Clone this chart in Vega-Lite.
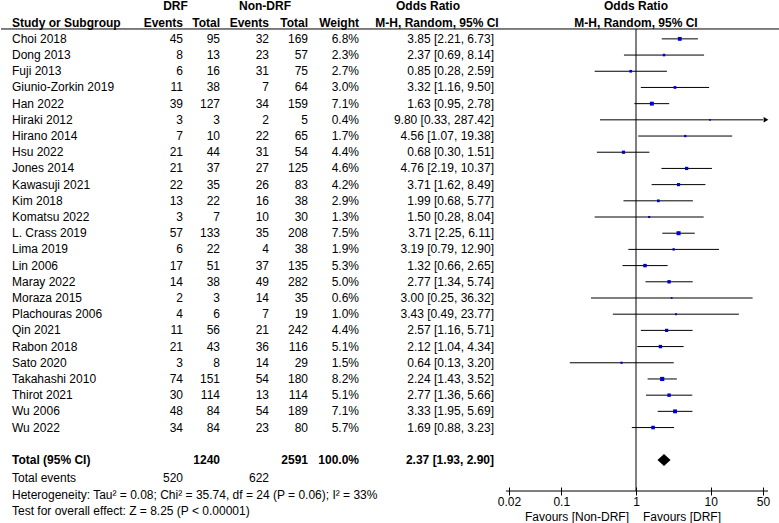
{
  "$schema": "https://vega.github.io/schema/vega-lite/v6.json",
  "background": "white",
  "padding": {"left": 0, "top": 0, "right": 17, "bottom": 0},
  "spacing": 0,
  "bounds": "flush",
  "config": {
    "view": {"stroke": null},
    "text": {"font": "Liberation Sans", "fontSize": 12, "color": "black"},
    "rule": {"color": "black", "strokeWidth": 1},
    "axis": {"labelFont": "Liberation Sans"}
  },
  "datasets": {
    "studies": [
      {"study": "Choi 2018", "e1": 45, "n1": 95, "e2": 32, "n2": 169, "w": 0.068, "or": 3.85, "lo": 2.21, "hi": 6.73, "ci": "3.85 [2.21, 6.73]"},
      {"study": "Dong 2013", "e1": 8, "n1": 13, "e2": 23, "n2": 57, "w": 0.023, "or": 2.37, "lo": 0.69, "hi": 8.14, "ci": "2.37 [0.69, 8.14]"},
      {"study": "Fuji 2013", "e1": 6, "n1": 16, "e2": 31, "n2": 75, "w": 0.027, "or": 0.85, "lo": 0.28, "hi": 2.59, "ci": "0.85 [0.28, 2.59]"},
      {"study": "Giunio-Zorkin 2019", "e1": 11, "n1": 38, "e2": 7, "n2": 64, "w": 0.03, "or": 3.32, "lo": 1.16, "hi": 9.5, "ci": "3.32 [1.16, 9.50]"},
      {"study": "Han 2022", "e1": 39, "n1": 127, "e2": 34, "n2": 159, "w": 0.071, "or": 1.63, "lo": 0.95, "hi": 2.78, "ci": "1.63 [0.95, 2.78]"},
      {"study": "Hiraki 2012", "e1": 3, "n1": 3, "e2": 2, "n2": 5, "w": 0.004, "or": 9.8, "lo": 0.33, "hi": 287.42, "ci": "9.80 [0.33, 287.42]"},
      {"study": "Hirano 2014", "e1": 7, "n1": 10, "e2": 22, "n2": 65, "w": 0.017, "or": 4.56, "lo": 1.07, "hi": 19.38, "ci": "4.56 [1.07, 19.38]"},
      {"study": "Hsu 2022", "e1": 21, "n1": 44, "e2": 31, "n2": 54, "w": 0.044, "or": 0.68, "lo": 0.3, "hi": 1.51, "ci": "0.68 [0.30, 1.51]"},
      {"study": "Jones 2014", "e1": 21, "n1": 37, "e2": 27, "n2": 125, "w": 0.046, "or": 4.76, "lo": 2.19, "hi": 10.37, "ci": "4.76 [2.19, 10.37]"},
      {"study": "Kawasuji 2021", "e1": 22, "n1": 35, "e2": 26, "n2": 83, "w": 0.042, "or": 3.71, "lo": 1.62, "hi": 8.49, "ci": "3.71 [1.62, 8.49]"},
      {"study": "Kim 2018", "e1": 13, "n1": 22, "e2": 16, "n2": 38, "w": 0.029, "or": 1.99, "lo": 0.68, "hi": 5.77, "ci": "1.99 [0.68, 5.77]"},
      {"study": "Komatsu 2022", "e1": 3, "n1": 7, "e2": 10, "n2": 30, "w": 0.013, "or": 1.5, "lo": 0.28, "hi": 8.04, "ci": "1.50 [0.28, 8.04]"},
      {"study": "L. Crass 2019", "e1": 57, "n1": 133, "e2": 35, "n2": 208, "w": 0.075, "or": 3.71, "lo": 2.25, "hi": 6.11, "ci": "3.71 [2.25, 6.11]"},
      {"study": "Lima 2019", "e1": 6, "n1": 22, "e2": 4, "n2": 38, "w": 0.019, "or": 3.19, "lo": 0.79, "hi": 12.9, "ci": "3.19 [0.79, 12.90]"},
      {"study": "Lin 2006", "e1": 17, "n1": 51, "e2": 37, "n2": 135, "w": 0.053, "or": 1.32, "lo": 0.66, "hi": 2.65, "ci": "1.32 [0.66, 2.65]"},
      {"study": "Maray 2022", "e1": 14, "n1": 38, "e2": 49, "n2": 282, "w": 0.05, "or": 2.77, "lo": 1.34, "hi": 5.74, "ci": "2.77 [1.34, 5.74]"},
      {"study": "Moraza 2015", "e1": 2, "n1": 3, "e2": 14, "n2": 35, "w": 0.006, "or": 3.0, "lo": 0.25, "hi": 36.32, "ci": "3.00 [0.25, 36.32]"},
      {"study": "Plachouras 2006", "e1": 4, "n1": 6, "e2": 7, "n2": 19, "w": 0.01, "or": 3.43, "lo": 0.49, "hi": 23.77, "ci": "3.43 [0.49, 23.77]"},
      {"study": "Qin 2021", "e1": 11, "n1": 56, "e2": 21, "n2": 242, "w": 0.044, "or": 2.57, "lo": 1.16, "hi": 5.71, "ci": "2.57 [1.16, 5.71]"},
      {"study": "Rabon 2018", "e1": 21, "n1": 43, "e2": 36, "n2": 116, "w": 0.051, "or": 2.12, "lo": 1.04, "hi": 4.34, "ci": "2.12 [1.04, 4.34]"},
      {"study": "Sato 2020", "e1": 3, "n1": 8, "e2": 14, "n2": 29, "w": 0.015, "or": 0.64, "lo": 0.13, "hi": 3.2, "ci": "0.64 [0.13, 3.20]"},
      {"study": "Takahashi 2010", "e1": 74, "n1": 151, "e2": 54, "n2": 180, "w": 0.082, "or": 2.24, "lo": 1.43, "hi": 3.52, "ci": "2.24 [1.43, 3.52]"},
      {"study": "Thirot 2021", "e1": 30, "n1": 114, "e2": 13, "n2": 114, "w": 0.051, "or": 2.77, "lo": 1.36, "hi": 5.66, "ci": "2.77 [1.36, 5.66]"},
      {"study": "Wu 2006", "e1": 48, "n1": 84, "e2": 54, "n2": 189, "w": 0.071, "or": 3.33, "lo": 1.95, "hi": 5.69, "ci": "3.33 [1.95, 5.69]"},
      {"study": "Wu 2022", "e1": 34, "n1": 84, "e2": 23, "n2": 80, "w": 0.057, "or": 1.69, "lo": 0.88, "hi": 3.23, "ci": "1.69 [0.88, 3.23]"}
    ],
    "total": [
      {"study": "Total (95% CI)", "n1": 1240, "n2": 2591, "w": 1, "or": 2.37, "lo": 1.93, "hi": 2.9, "ci": "2.37 [1.93, 2.90]"}
    ],
    "totev": [
      {"study": "Total events", "e1": 520, "e2": 622}
    ],
    "notes": [
      {"study": "Het", "text": "Heterogeneity: Tau² = 0.08; Chi² = 35.74, df = 24 (P = 0.06); I² = 33%"},
      {"study": "Test", "text": "Test for overall effect: Z = 8.25 (P < 0.00001)"}
    ]
  },
  "hconcat": [
    {
      "width": 145, "height": 515,
      "layer": [
        {"data": {"values": [{"study": "hdr2"}]}, "mark": {"type": "rule", "yOffset": 6.3},
         "encoding": {"y": {"field": "study", "type": "nominal", "axis": null, "scale": {"type": "point", "padding": 0.4, "domain": ["hdr1","hdr2","Choi 2018","Dong 2013","Fuji 2013","Giunio-Zorkin 2019","Han 2022","Hiraki 2012","Hirano 2014","Hsu 2022","Jones 2014","Kawasuji 2021","Kim 2018","Komatsu 2022","L. Crass 2019","Lima 2019","Lin 2006","Maray 2022","Moraza 2015","Plachouras 2006","Qin 2021","Rabon 2018","Sato 2020","Takahashi 2010","Thirot 2021","Wu 2006","Wu 2022","blank","Total (95% CI)","Total events","Het","Test"]}}}},
        {"data": {"values": [{"study": "hdr2", "t": "Study or Subgroup"}]}, "mark": {"type": "text", "align": "left", "dx": 11, "fontWeight": "bold"},
         "encoding": {"x": {"datum": 0, "type": "quantitative", "scale": {"domain": [0, 1]}, "axis": null}, "y": {"field": "study", "type": "nominal", "axis": null}, "text": {"field": "t"}}},
        {"data": {"name": "studies"}, "mark": {"type": "text", "align": "left", "dx": 11},
         "encoding": {"x": {"datum": 0, "type": "quantitative", "axis": null}, "y": {"field": "study", "type": "nominal", "axis": null}, "text": {"field": "study"}}},
        {"data": {"name": "total"}, "mark": {"type": "text", "align": "left", "dx": 11, "fontWeight": "bold"},
         "encoding": {"x": {"datum": 0, "type": "quantitative", "axis": null}, "y": {"field": "study", "type": "nominal", "axis": null}, "text": {"field": "study"}}},
        {"data": {"name": "totev"}, "mark": {"type": "text", "align": "left", "dx": 11, "dy": 1.5},
         "encoding": {"x": {"datum": 0, "type": "quantitative", "axis": null}, "y": {"field": "study", "type": "nominal", "axis": null}, "text": {"field": "study"}}},
        {"data": {"name": "notes"}, "mark": {"type": "text", "align": "left", "dx": 11, "dy": 2.5},
         "encoding": {"x": {"datum": 0, "type": "quantitative", "axis": null}, "y": {"field": "study", "type": "nominal", "axis": null}, "text": {"field": "text"}}}
      ]
    },
    {
      "width": 37, "height": 515,
      "layer": [
        {"data": {"values": [{"study": "hdr2"}]}, "mark": {"type": "rule", "yOffset": 6.3},
         "encoding": {"y": {"field": "study", "type": "nominal", "axis": null, "scale": {"type": "point", "padding": 0.4, "domain": ["hdr1","hdr2","Choi 2018","Dong 2013","Fuji 2013","Giunio-Zorkin 2019","Han 2022","Hiraki 2012","Hirano 2014","Hsu 2022","Jones 2014","Kawasuji 2021","Kim 2018","Komatsu 2022","L. Crass 2019","Lima 2019","Lin 2006","Maray 2022","Moraza 2015","Plachouras 2006","Qin 2021","Rabon 2018","Sato 2020","Takahashi 2010","Thirot 2021","Wu 2006","Wu 2022","blank","Total (95% CI)","Total events","Het","Test"]}}}},
        {"data": {"values": [{"study": "hdr1", "t": "DRF"}]}, "mark": {"type": "text", "align": "center", "dx": -7.5, "fontWeight": "bold"},
         "encoding": {"x": {"datum": 1, "type": "quantitative", "scale": {"domain": [0, 1]}, "axis": null}, "y": {"field": "study", "type": "nominal", "axis": null}, "text": {"field": "t"}}},
        {"data": {"values": [{"study": "hdr2", "t": "Events"}]}, "mark": {"type": "text", "align": "right", "fontWeight": "bold"},
         "encoding": {"x": {"datum": 1, "type": "quantitative", "axis": null}, "y": {"field": "study", "type": "nominal", "axis": null}, "text": {"field": "t"}}},
        {"data": {"name": "studies"}, "mark": {"type": "text", "align": "right"},
         "encoding": {"x": {"datum": 1, "type": "quantitative", "axis": null}, "y": {"field": "study", "type": "nominal", "axis": null}, "text": {"field": "e1"}}},
        {"data": {"name": "totev"}, "mark": {"type": "text", "align": "right", "dy": 1.5},
         "encoding": {"x": {"datum": 1, "type": "quantitative", "axis": null}, "y": {"field": "study", "type": "nominal", "axis": null}, "text": {"field": "e1"}}}
      ]
    },
    {
      "width": 37, "height": 515,
      "layer": [
        {"data": {"values": [{"study": "hdr2"}]}, "mark": {"type": "rule", "yOffset": 6.3},
         "encoding": {"y": {"field": "study", "type": "nominal", "axis": null, "scale": {"type": "point", "padding": 0.4, "domain": ["hdr1","hdr2","Choi 2018","Dong 2013","Fuji 2013","Giunio-Zorkin 2019","Han 2022","Hiraki 2012","Hirano 2014","Hsu 2022","Jones 2014","Kawasuji 2021","Kim 2018","Komatsu 2022","L. Crass 2019","Lima 2019","Lin 2006","Maray 2022","Moraza 2015","Plachouras 2006","Qin 2021","Rabon 2018","Sato 2020","Takahashi 2010","Thirot 2021","Wu 2006","Wu 2022","blank","Total (95% CI)","Total events","Het","Test"]}}}},
        {"data": {"values": [{"study": "hdr2", "t": "Total"}]}, "mark": {"type": "text", "align": "right", "fontWeight": "bold"},
         "encoding": {"x": {"datum": 1, "type": "quantitative", "scale": {"domain": [0, 1]}, "axis": null}, "y": {"field": "study", "type": "nominal", "axis": null}, "text": {"field": "t"}}},
        {"data": {"name": "studies"}, "mark": {"type": "text", "align": "right"},
         "encoding": {"x": {"datum": 1, "type": "quantitative", "axis": null}, "y": {"field": "study", "type": "nominal", "axis": null}, "text": {"field": "n1"}}},
        {"data": {"name": "total"}, "mark": {"type": "text", "align": "right", "fontWeight": "bold"},
         "encoding": {"x": {"datum": 1, "type": "quantitative", "axis": null}, "y": {"field": "study", "type": "nominal", "axis": null}, "text": {"field": "n1"}}}
      ]
    },
    {
      "width": 49, "height": 515,
      "layer": [
        {"data": {"values": [{"study": "hdr2"}]}, "mark": {"type": "rule", "yOffset": 6.3},
         "encoding": {"y": {"field": "study", "type": "nominal", "axis": null, "scale": {"type": "point", "padding": 0.4, "domain": ["hdr1","hdr2","Choi 2018","Dong 2013","Fuji 2013","Giunio-Zorkin 2019","Han 2022","Hiraki 2012","Hirano 2014","Hsu 2022","Jones 2014","Kawasuji 2021","Kim 2018","Komatsu 2022","L. Crass 2019","Lima 2019","Lin 2006","Maray 2022","Moraza 2015","Plachouras 2006","Qin 2021","Rabon 2018","Sato 2020","Takahashi 2010","Thirot 2021","Wu 2006","Wu 2022","blank","Total (95% CI)","Total events","Het","Test"]}}}},
        {"data": {"values": [{"study": "hdr1", "t": "Non-DRF"}]}, "mark": {"type": "text", "align": "center", "dx": -4, "fontWeight": "bold"},
         "encoding": {"x": {"datum": 1, "type": "quantitative", "scale": {"domain": [0, 1]}, "axis": null}, "y": {"field": "study", "type": "nominal", "axis": null}, "text": {"field": "t"}}},
        {"data": {"values": [{"study": "hdr2", "t": "Events"}]}, "mark": {"type": "text", "align": "right", "fontWeight": "bold"},
         "encoding": {"x": {"datum": 1, "type": "quantitative", "axis": null}, "y": {"field": "study", "type": "nominal", "axis": null}, "text": {"field": "t"}}},
        {"data": {"name": "studies"}, "mark": {"type": "text", "align": "right"},
         "encoding": {"x": {"datum": 1, "type": "quantitative", "axis": null}, "y": {"field": "study", "type": "nominal", "axis": null}, "text": {"field": "e2"}}},
        {"data": {"name": "totev"}, "mark": {"type": "text", "align": "right", "dy": 1.5},
         "encoding": {"x": {"datum": 1, "type": "quantitative", "axis": null}, "y": {"field": "study", "type": "nominal", "axis": null}, "text": {"field": "e2"}}}
      ]
    },
    {
      "width": 39, "height": 515,
      "layer": [
        {"data": {"values": [{"study": "hdr2"}]}, "mark": {"type": "rule", "yOffset": 6.3},
         "encoding": {"y": {"field": "study", "type": "nominal", "axis": null, "scale": {"type": "point", "padding": 0.4, "domain": ["hdr1","hdr2","Choi 2018","Dong 2013","Fuji 2013","Giunio-Zorkin 2019","Han 2022","Hiraki 2012","Hirano 2014","Hsu 2022","Jones 2014","Kawasuji 2021","Kim 2018","Komatsu 2022","L. Crass 2019","Lima 2019","Lin 2006","Maray 2022","Moraza 2015","Plachouras 2006","Qin 2021","Rabon 2018","Sato 2020","Takahashi 2010","Thirot 2021","Wu 2006","Wu 2022","blank","Total (95% CI)","Total events","Het","Test"]}}}},
        {"data": {"values": [{"study": "hdr2", "t": "Total"}]}, "mark": {"type": "text", "align": "right", "fontWeight": "bold"},
         "encoding": {"x": {"datum": 1, "type": "quantitative", "scale": {"domain": [0, 1]}, "axis": null}, "y": {"field": "study", "type": "nominal", "axis": null}, "text": {"field": "t"}}},
        {"data": {"name": "studies"}, "mark": {"type": "text", "align": "right"},
         "encoding": {"x": {"datum": 1, "type": "quantitative", "axis": null}, "y": {"field": "study", "type": "nominal", "axis": null}, "text": {"field": "n2"}}},
        {"data": {"name": "total"}, "mark": {"type": "text", "align": "right", "fontWeight": "bold"},
         "encoding": {"x": {"datum": 1, "type": "quantitative", "axis": null}, "y": {"field": "study", "type": "nominal", "axis": null}, "text": {"field": "n2"}}}
      ]
    },
    {
      "width": 51, "height": 515,
      "layer": [
        {"data": {"values": [{"study": "hdr2"}]}, "mark": {"type": "rule", "yOffset": 6.3},
         "encoding": {"y": {"field": "study", "type": "nominal", "axis": null, "scale": {"type": "point", "padding": 0.4, "domain": ["hdr1","hdr2","Choi 2018","Dong 2013","Fuji 2013","Giunio-Zorkin 2019","Han 2022","Hiraki 2012","Hirano 2014","Hsu 2022","Jones 2014","Kawasuji 2021","Kim 2018","Komatsu 2022","L. Crass 2019","Lima 2019","Lin 2006","Maray 2022","Moraza 2015","Plachouras 2006","Qin 2021","Rabon 2018","Sato 2020","Takahashi 2010","Thirot 2021","Wu 2006","Wu 2022","blank","Total (95% CI)","Total events","Het","Test"]}}}},
        {"data": {"values": [{"study": "hdr2", "t": "Weight"}]}, "mark": {"type": "text", "align": "right", "fontWeight": "bold"},
         "encoding": {"x": {"datum": 1, "type": "quantitative", "scale": {"domain": [0, 1]}, "axis": null}, "y": {"field": "study", "type": "nominal", "axis": null}, "text": {"field": "t"}}},
        {"data": {"name": "studies"}, "mark": {"type": "text", "align": "right"},
         "encoding": {"x": {"datum": 1, "type": "quantitative", "axis": null}, "y": {"field": "study", "type": "nominal", "axis": null}, "text": {"field": "w", "type": "quantitative", "format": ".1%"}}},
        {"data": {"name": "total"}, "mark": {"type": "text", "align": "right", "fontWeight": "bold"},
         "encoding": {"x": {"datum": 1, "type": "quantitative", "axis": null}, "y": {"field": "study", "type": "nominal", "axis": null}, "text": {"field": "w", "type": "quantitative", "format": ".1%"}}}
      ]
    },
    {
      "width": 150, "height": 515,
      "layer": [
        {"data": {"values": [{"study": "hdr2"}]}, "mark": {"type": "rule", "yOffset": 6.3},
         "encoding": {"y": {"field": "study", "type": "nominal", "axis": null, "scale": {"type": "point", "padding": 0.4, "domain": ["hdr1","hdr2","Choi 2018","Dong 2013","Fuji 2013","Giunio-Zorkin 2019","Han 2022","Hiraki 2012","Hirano 2014","Hsu 2022","Jones 2014","Kawasuji 2021","Kim 2018","Komatsu 2022","L. Crass 2019","Lima 2019","Lin 2006","Maray 2022","Moraza 2015","Plachouras 2006","Qin 2021","Rabon 2018","Sato 2020","Takahashi 2010","Thirot 2021","Wu 2006","Wu 2022","blank","Total (95% CI)","Total events","Het","Test"]}}}},
        {"data": {"values": [{"study": "hdr1", "t": "Odds Ratio"}]}, "mark": {"type": "text", "align": "center", "dx": -6, "fontWeight": "bold"},
         "encoding": {"x": {"datum": 0.5, "type": "quantitative", "scale": {"domain": [0, 1]}, "axis": null}, "y": {"field": "study", "type": "nominal", "axis": null}, "text": {"field": "t"}}},
        {"data": {"values": [{"study": "hdr2", "t": "M-H, Random, 95% CI"}]}, "mark": {"type": "text", "align": "center", "dx": 3, "fontWeight": "bold"},
         "encoding": {"x": {"datum": 0.5, "type": "quantitative", "axis": null}, "y": {"field": "study", "type": "nominal", "axis": null}, "text": {"field": "t"}}},
        {"data": {"name": "studies"}, "mark": {"type": "text", "align": "right", "dx": -15},
         "encoding": {"x": {"datum": 1, "type": "quantitative", "axis": null}, "y": {"field": "study", "type": "nominal", "axis": null}, "text": {"field": "ci"}}},
        {"data": {"name": "total"}, "mark": {"type": "text", "align": "right", "dx": -15, "fontWeight": "bold"},
         "encoding": {"x": {"datum": 1, "type": "quantitative", "axis": null}, "y": {"field": "study", "type": "nominal", "axis": null}, "text": {"field": "ci"}}}
      ]
    },
    {
      "width": 254, "height": 515,
      "layer": [
        {"data": {"values": [{"study": "hdr2"}]}, "mark": {"type": "rule", "yOffset": 6.3, "x2Offset": 17},
         "encoding": {
           "x": {"datum": 0.02, "type": "quantitative",
                 "scale": {"type": "log", "domain": [0.02, 50], "nice": false, "clamp": true},
                 "axis": {"values": [0.02, 0.1, 1, 10, 50], "format": "~g", "offset": -28, "title": null, "grid": false,
                          "domain": false, "tickColor": "black", "tickSize": 8, "tickWidth": 1, "labelColor": "black",
                          "labelFontSize": 12, "labelFont": "Liberation Sans", "labelPadding": 1, "labelFlush": false, "labelOverlap": false}},
           "x2": {"datum": 50},
           "y": {"field": "study", "type": "nominal", "axis": null, "scale": {"type": "point", "padding": 0.4, "domain": ["hdr1","hdr2","Choi 2018","Dong 2013","Fuji 2013","Giunio-Zorkin 2019","Han 2022","Hiraki 2012","Hirano 2014","Hsu 2022","Jones 2014","Kawasuji 2021","Kim 2018","Komatsu 2022","L. Crass 2019","Lima 2019","Lin 2006","Maray 2022","Moraza 2015","Plachouras 2006","Qin 2021","Rabon 2018","Sato 2020","Takahashi 2010","Thirot 2021","Wu 2006","Wu 2022","blank","Total (95% CI)","Total events","Het","Test"]}}}},
        {"data": {"values": [{"study": "Het"}]}, "mark": {"type": "rule", "yOffset": -1.3, "xOffset": -3, "x2Offset": 5},
         "encoding": {"x": {"datum": 0.02, "type": "quantitative", "title": null}, "x2": {"datum": 50}, "y": {"field": "study", "type": "nominal", "axis": null}}},
        {"data": {"values": [{"study": "hdr1", "t": "Odds Ratio"}, {"study": "hdr2", "t": "M-H, Random, 95% CI"}]}, "mark": {"type": "text", "align": "center", "fontWeight": "bold"},
         "encoding": {"x": {"datum": 1, "type": "quantitative", "title": null}, "y": {"field": "study", "type": "nominal", "axis": null}, "text": {"field": "t"}}},
        {"data": {"values": [{"v": 1}]}, "mark": {"type": "rule", "yOffset": 6.3, "y2Offset": -1.3},
         "encoding": {"x": {"field": "v", "type": "quantitative", "title": null}, "y": {"datum": "hdr2", "type": "nominal", "axis": null}, "y2": {"datum": "Het"}}},
        {"data": {"name": "studies"}, "mark": {"type": "rule"},
         "encoding": {"x": {"field": "lo", "type": "quantitative", "title": null}, "x2": {"field": "hi"}, "y": {"field": "study", "type": "nominal", "axis": null}}},
        {"data": {"name": "studies"}, "mark": {"type": "point", "shape": "square", "filled": true, "opacity": 1, "color": "#0000cc"},
         "encoding": {"x": {"field": "or", "type": "quantitative", "title": null}, "y": {"field": "study", "type": "nominal", "axis": null},
                      "size": {"field": "w", "type": "quantitative", "legend": null, "scale": {"type": "linear", "domain": [0, 0.085], "range": [2, 18], "zero": false}}}},
        {"data": {"name": "studies"}, "transform": [{"filter": "datum.hi > 50"}], "mark": {"type": "point", "shape": "triangle-right", "filled": true, "opacity": 1, "color": "black", "size": 30, "xOffset": 3},
         "encoding": {"x": {"field": "hi", "type": "quantitative", "title": null}, "y": {"field": "study", "type": "nominal", "axis": null}}},
        {"data": {"name": "total"}, "mark": {"type": "point", "shape": "M-1,0L0,-0.92L1,0L0,0.92Z", "filled": true, "opacity": 1, "color": "black", "size": 172},
         "encoding": {"x": {"field": "or", "type": "quantitative", "title": null}, "y": {"field": "study", "type": "nominal", "axis": null}}},
        {"data": {"values": [{"study": "Test", "t": "Favours [Non-DRF]"}]}, "mark": {"type": "text", "align": "right", "dx": -7, "dy": 8},
         "encoding": {"x": {"datum": 1, "type": "quantitative", "title": null}, "y": {"field": "study", "type": "nominal", "axis": null}, "text": {"field": "t"}}},
        {"data": {"values": [{"study": "Test", "t": "Favours [DRF]"}]}, "mark": {"type": "text", "align": "left", "dx": 7, "dy": 8},
         "encoding": {"x": {"datum": 1, "type": "quantitative", "title": null}, "y": {"field": "study", "type": "nominal", "axis": null}, "text": {"field": "t"}}}
      ]
    }
  ]
}
